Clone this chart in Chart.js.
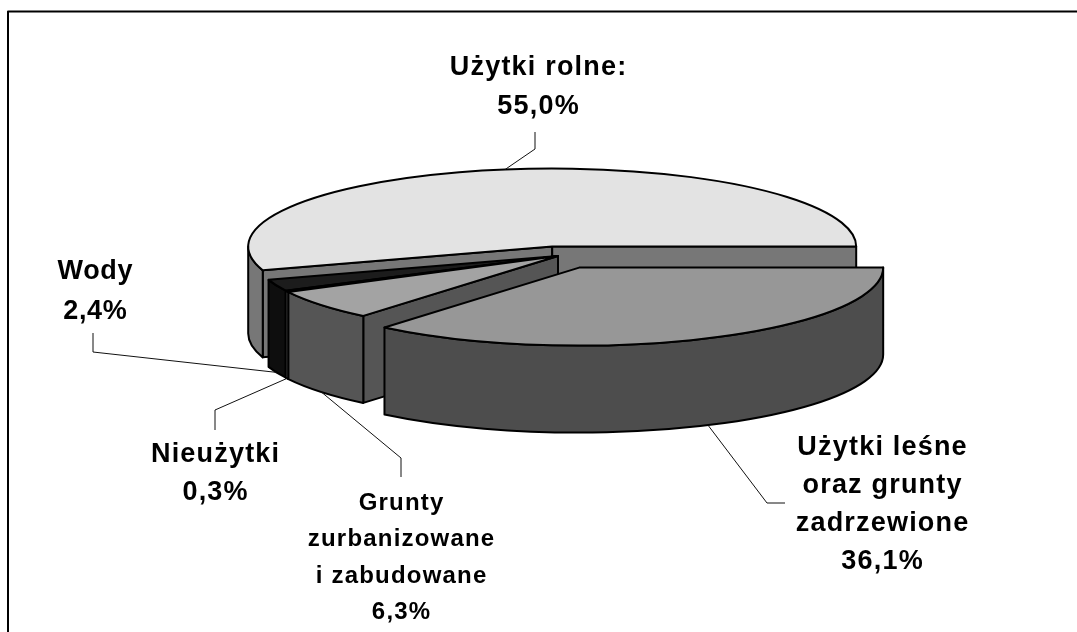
<!DOCTYPE html>
<html><head><meta charset="utf-8">
<script src="https://cdn.jsdelivr.net/npm/chart.js@4/dist/chart.umd.min.js"></script>
<style>html,body{margin:0;padding:0;background:#fff;}#wrap{width:1077px;height:632px;position:relative;}</style>
</head><body><div id="wrap"><canvas id="c"></canvas></div>
<script>
// ---- data ----
const categories = ['Użytki leśne oraz grunty zadrzewione', 'Grunty zurbanizowane i zabudowane', 'Nieużytki', 'Wody', 'Użytki rolne'];
const shares = [36.1, 6.3, 0.3, 2.4, 55.0];
const labelNames = [['Użytki leśne', 'oraz grunty', 'zadrzewione'], ['Grunty', 'zurbanizowane', 'i zabudowane'], ['Nieużytki'], ['Wody'], ['Użytki rolne:']];
const explodeOffsets = [48, 0, 0, 0, 36];

// ---- style ----
const topColors = ['#979797', '#a3a3a3', '#9a9a9a', '#1c1c1c', '#e3e3e3'];
const sideColors = ['#4d4d4d', '#555555', '#858585', '#0e0e0e', '#777777'];
const GEOM = {cx: 558, cy: 256, rx: 304, ry: 78, depth: 87};
const LABELS = [
  {x: 882, y: 448, gap: 38, size: 27, spacing: 1.2, anchor: 'bottom', leader: [[785, 503], [767, 503]]},
  {x: 401, y: 503, gap: 36.5, size: 24, spacing: 1.2, anchor: 'bottom', leader: [[401, 477], [401, 458]]},
  {x: 215, y: 455, gap: 38, size: 27, spacing: 1.2, anchor: 'bottom', leader: [[215, 430], [215, 410]]},
  {x: 95, y: 272, gap: 40, size: 27, spacing: 0.6, anchor: 'bottom', leader: [[93, 333], [93, 352]]},
  {x: 538, y: 68, gap: 39, size: 27, spacing: 1.2, anchor: 'top', leader: [[535, 132], [535, 149]]}
];

function fmt(v) { return v.toFixed(1).replace('.', ',') + '%'; }

const pie3d = {
  id: 'pie3d',
  beforeDatasetsDraw(chart) {
    const ctx = chart.ctx;
    const meta = chart.getDatasetMeta(0);
    const G = GEOM;
    const items = meta.data.map((el, i) => {
      const p = el.getProps(['x', 'y', 'startAngle', 'endAngle', 'outerRadius'], true);
      const mid = (p.startAngle + p.endAngle) / 2;
      const frac = (el.options.offset || 0) / p.outerRadius;
      return {
        i, a1: p.startAngle, a2: p.endAngle, mid,
        X: G.cx + Math.cos(mid) * frac * G.rx,
        Y: G.cy + Math.sin(mid) * frac * G.ry,
        top: el.options.backgroundColor, side: sideColors[i]
      };
    });
    const P = (it, a, dz) => [it.X + G.rx * Math.cos(a), it.Y + G.ry * Math.sin(a) + dz];
    ctx.save();
    ctx.lineWidth = 2;
    ctx.lineJoin = 'round';
    ctx.strokeStyle = '#000';
    const order = items.slice().sort((a, b) => Math.sin(a.mid) - Math.sin(b.mid));
    order.forEach(it => {
      const D = G.depth;
      const faces = [];
      if (Math.cos(it.a1) < -1e-6) faces.push(it.a1);
      if (Math.cos(it.a2) > 1e-6) faces.push(it.a2);
      faces.forEach(a => {
        const q = P(it, a, 0), r = P(it, a, D);
        ctx.beginPath();
        ctx.moveTo(it.X, it.Y);
        ctx.lineTo(q[0], q[1]);
        ctx.lineTo(r[0], r[1]);
        ctx.lineTo(it.X, it.Y + D);
        ctx.closePath();
        ctx.fillStyle = it.side; ctx.fill(); ctx.stroke();
      });
      for (const k of [0, 2 * Math.PI]) {
        const lo = Math.max(it.a1, k), hi = Math.min(it.a2, k + Math.PI);
        if (hi - lo > 1e-4) {
          const e = P(it, hi, D);
          ctx.beginPath();
          ctx.ellipse(it.X, it.Y, G.rx, G.ry, 0, lo, hi, false);
          ctx.lineTo(e[0], e[1]);
          ctx.ellipse(it.X, it.Y + D, G.rx, G.ry, 0, hi, lo, true);
          ctx.closePath();
          ctx.fillStyle = it.side; ctx.fill(); ctx.stroke();
        }
      }
      ctx.beginPath();
      ctx.moveTo(it.X, it.Y);
      ctx.ellipse(it.X, it.Y, G.rx, G.ry, 0, it.a1, it.a2, false);
      ctx.closePath();
      ctx.fillStyle = it.top; ctx.fill(); ctx.stroke();
    });

    items.forEach(it => {
      const L = LABELS[it.i];
      const pt = L.anchor === 'top' ? P(it, it.mid, 0) : P(it, it.mid, G.depth);
      ctx.beginPath();
      ctx.lineWidth = 1;
      ctx.strokeStyle = '#111';
      ctx.moveTo(L.leader[0][0], L.leader[0][1]);
      ctx.lineTo(L.leader[1][0], L.leader[1][1]);
      ctx.lineTo(pt[0], pt[1]);
      ctx.stroke();
      const lines = labelNames[it.i].concat([fmt(shares[it.i])]);
      ctx.fillStyle = '#000';
      ctx.font = 'bold ' + L.size + 'px "Liberation Sans", Arial, sans-serif';
      ctx.letterSpacing = L.spacing + 'px';
      ctx.textAlign = 'center';
      ctx.textBaseline = 'middle';
      lines.forEach((s, j) => ctx.fillText(s, L.x + L.spacing / 2, L.y + j * L.gap));
    });
    ctx.letterSpacing = '0px';
    ctx.beginPath();
    ctx.lineWidth = 2;
    ctx.strokeStyle = '#000';
    ctx.moveTo(8, 632);
    ctx.lineTo(8, 11.5);
    ctx.lineTo(1077, 11.5);
    ctx.stroke();
    ctx.restore();
    return false;
  }
};

new Chart(document.getElementById('c'), {
  type: 'pie',
  data: {
    labels: categories,
    datasets: [{data: shares, backgroundColor: topColors, offset: explodeOffsets, borderWidth: 0}]
  },
  options: {
    responsive: true,
    maintainAspectRatio: false,
    animation: false,
    rotation: 90,
    layout: {padding: 0},
    plugins: {legend: {display: false}, tooltip: {enabled: false}}
  },
  plugins: [pie3d]
});
</script>
</body></html>
